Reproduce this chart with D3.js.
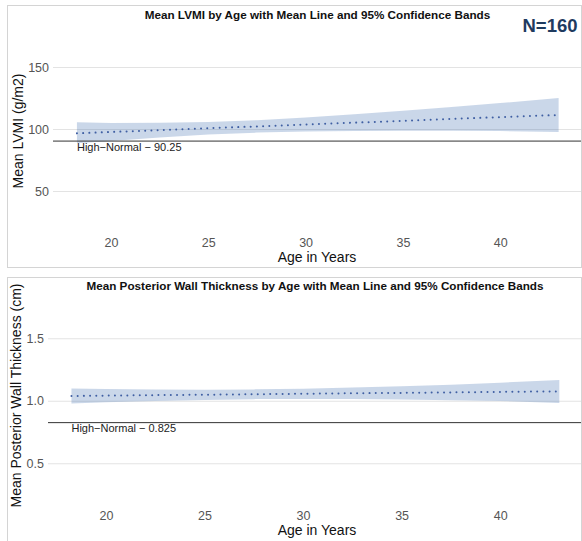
<!DOCTYPE html>
<html>
<head>
<meta charset="utf-8">
<script src="https://cdn.jsdelivr.net/npm/d3@7"></script>
<style>
  html, body { margin: 0; padding: 0; background: #fff; }
  svg { display: block; font-family: "Liberation Sans", Arial, sans-serif; }
</style>
</head>
<body>
<svg id="chart" width="582" height="541"></svg>
<script>
// ---- data ----
const ages = [18.25, 20, 22.5, 25, 27.5, 30, 32.5, 35, 37.5, 40, 43];
const lvmiMean  = [96.5, 97.6, 99.1, 100.6, 102.1, 103.6, 105.1, 106.6, 108.1, 109.6, 111.3];
const lvmiLower = [88.5, 90.4, 93.2, 95.5, 97.1, 98.0, 98.4, 98.5, 98.5, 98.3, 97.6];
const lvmiUpper = [105.5, 104.8, 105.0, 105.7, 107.1, 109.2, 111.8, 114.7, 117.7, 120.9, 125.0];
const pwtMean  = [1.038, 1.041, 1.045, 1.048, 1.052, 1.056, 1.060, 1.063, 1.067, 1.071, 1.075];
const pwtLower = [0.979, 0.988, 0.999, 1.007, 1.013, 1.015, 1.014, 1.010, 1.005, 0.998, 0.983];
const pwtUpper = [1.099, 1.094, 1.091, 1.089, 1.091, 1.097, 1.106, 1.116, 1.129, 1.144, 1.167];
const xTicks = [20, 25, 30, 35, 40];
const lvmiTicks = [50, 100, 150];
const pwtTicks = [0.5, 1.0, 1.5];
const lvmiRef = 90.25;
const pwtRef = 0.825;
const lvmiRefLabel = "High\u2212Normal \u2212 90.25";
const pwtRefLabel = "High\u2212Normal \u2212 0.825";
const lvmiTitle = "Mean LVMI by Age with Mean Line and 95% Confidence Bands";
const pwtTitle = "Mean Posterior Wall Thickness by Age with Mean Line and 95% Confidence Bands";
const lvmiYLabel = "Mean LVMI (g/m2)";
const pwtYLabel = "Mean Posterior Wall Thickness (cm)";
const xLabel = "Age in Years";
const nLabel = "N=160";

const svg = d3.select("#chart");

function panel(cfg) {
  const g = svg.append("g");
  // frame
  g.append("rect")
    .attr("x", cfg.box[0] + 0.5).attr("y", cfg.box[1] + 0.5)
    .attr("width", cfg.box[2]).attr("height", cfg.box[3])
    .attr("fill", "none").attr("stroke", "#d4d4d4").attr("stroke-width", 1);

  const x = d3.scaleLinear().domain(cfg.xDomain).range(cfg.xRange);
  const y = d3.scaleLinear().domain(cfg.yDomain).range(cfg.yRange);

  // y gridlines + labels via axis
  const yAxis = d3.axisLeft(y).tickValues(cfg.yTicks).tickFormat(cfg.yFmt)
    .tickSize(-(cfg.xRange[1] - cfg.xRange[0])).tickPadding(4);
  const ya = g.append("g").attr("transform", `translate(${cfg.xRange[0]},0)`).call(yAxis);
  ya.select(".domain").remove();
  ya.selectAll(".tick line").attr("stroke", "#e3e3e3").attr("stroke-width", 1);
  ya.selectAll(".tick text").attr("fill", "#555").attr("font-size", 12.5)
    .attr("font-family", "Liberation Sans, Arial, sans-serif");

  // x tick labels via axis
  const xAxis = d3.axisBottom(x).tickValues(xTicks).tickFormat(d3.format("d")).tickSize(0).tickPadding(0);
  const xa = g.append("g").attr("transform", `translate(0,${cfg.xTickY})`).call(xAxis);
  xa.select(".domain").remove();
  xa.selectAll(".tick text").attr("fill", "#555").attr("font-size", 12.5).attr("dy", 0)
    .attr("font-family", "Liberation Sans, Arial, sans-serif");

  const rows = ages.map((a, i) => ({ a, m: cfg.mean[i], lo: cfg.lower[i], hi: cfg.upper[i] }));

  // band
  g.append("path").datum(rows)
    .attr("d", d3.area().x(d => x(d.a)).y0(d => y(d.lo)).y1(d => y(d.hi)))
    .attr("fill", "#4f79b5").attr("fill-opacity", 0.3);

  // reference line
  g.append("line")
    .attr("x1", cfg.xRange[0]).attr("x2", cfg.xRange[1])
    .attr("y1", y(cfg.ref)).attr("y2", y(cfg.ref))
    .attr("stroke", "#333").attr("stroke-width", 1);
  g.append("text").attr("x", x(ages[0])).attr("y", y(cfg.ref) + 9.8)
    .attr("font-size", 11).attr("fill", "#222").text(cfg.refLabel);

  // mean dotted line
  g.append("path").datum(rows)
    .attr("d", d3.line().x(d => x(d.a)).y(d => y(d.m)))
    .attr("fill", "none").attr("stroke", "#3f5fa3").attr("stroke-width", 2)
    .attr("stroke-linecap", "round").attr("stroke-dasharray", "0.01,6.2");

  // title
  g.append("text").attr("x", cfg.titleX).attr("y", cfg.titleY)
    .attr("text-anchor", "middle").attr("font-size", 11.7).attr("font-weight", "bold")
    .attr("fill", "#111").text(cfg.title);

  // x label
  g.append("text").attr("x", 317).attr("y", cfg.xLabelY)
    .attr("text-anchor", "middle").attr("font-size", 14).attr("fill", "#111").text(xLabel);

  // y label
  g.append("text")
    .attr("transform", `translate(${cfg.yLabelX},${cfg.yLabelCY}) rotate(-90)`)
    .attr("text-anchor", "middle").attr("font-size", 14).attr("fill", "#111").text(cfg.yLabel);
  return g;
}

panel({
  box: [7, 5, 574, 262],
  xDomain: [17.02, 44.15], xRange: [53, 581],
  yDomain: [15, 185], yRange: [234.4, 23.6],
  yTicks: lvmiTicks, yFmt: d3.format("d"),
  xTickY: 246.5,
  mean: lvmiMean, lower: lvmiLower, upper: lvmiUpper,
  ref: lvmiRef, refLabel: lvmiRefLabel,
  title: lvmiTitle, titleX: 317.5, titleY: 18.5,
  xLabelY: 262, yLabelX: 23, yLabelCY: 131, yLabel: lvmiYLabel
});

panel({
  box: [7, 277, 574, 280],
  xDomain: [17.06, 44.1], xRange: [48, 581],
  yDomain: [0.166, 1.886], yRange: [505, 290],
  yTicks: pwtTicks, yFmt: d3.format(".1f"),
  xTickY: 520,
  mean: pwtMean, lower: pwtLower, upper: pwtUpper,
  ref: pwtRef, refLabel: pwtRefLabel,
  title: pwtTitle, titleX: 315, titleY: 289.5,
  xLabelY: 535, yLabelX: 20.5, yLabelCY: 395.5, yLabel: pwtYLabel
});

svg.append("text").attr("x", 577.5).attr("y", 31.5).attr("text-anchor", "end")
  .attr("font-size", 18.5).attr("font-weight", "bold").attr("fill", "#1f3b5f").text(nLabel);
</script>
</body>
</html>
